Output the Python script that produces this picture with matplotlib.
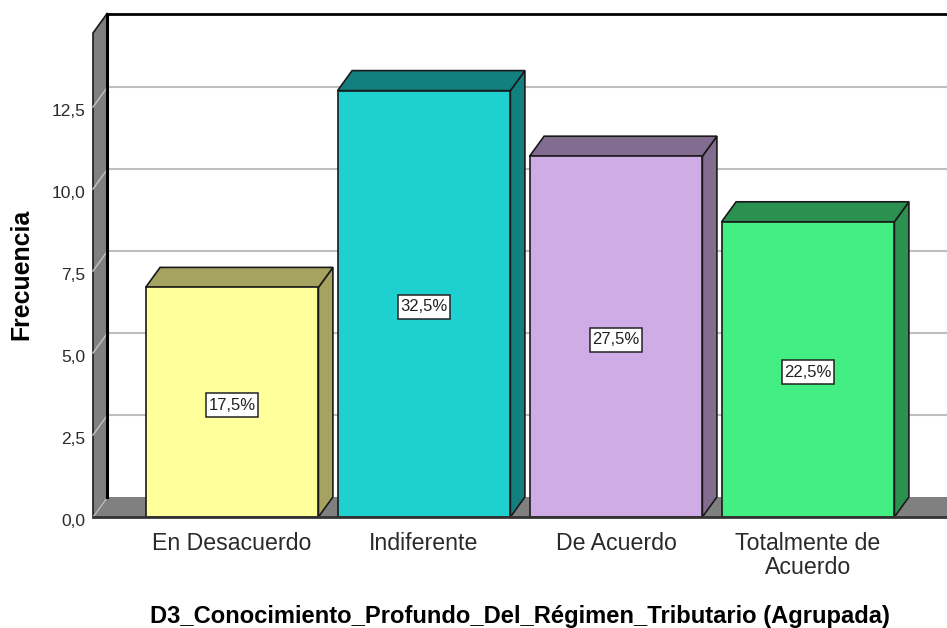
import matplotlib
matplotlib.use('Agg')
import matplotlib.pyplot as plt
from matplotlib.patches import Polygon, Rectangle
from matplotlib.transforms import ScaledTranslation

plt.rcParams['font.family'] = ['Liberation Sans', 'DejaVu Sans']

#datos
categorias = ['En Desacuerdo', 'Indiferente', 'De Acuerdo', 'Totalmente de\nAcuerdo']
frecuencia = [7, 13, 11, 9]
porcentaje = ['17,5%', '32,5%', '27,5%', '22,5%']
yticks = [0, 2.5, 5, 7.5, 10, 12.5]
ylabels = ['0,0', '2,5', '5,0', '7,5', '10,0', '12,5']

#colores
frente = ['#FFFF9B', '#1ED1D0', '#D0ACE6', '#43EE83']
lado = ['#A5A35F', '#138080', '#826C8F', '#2A9150']
gris = '#808080'
rejilla = '#BEBEBE'

W, H = 947, 628
fig = plt.figure(figsize=(W/100, H/100), dpi=100)
ax = fig.add_axes([93/W, (H-517)/H, (W-93)/W, (517-13)/H])

x0, x1 = -0.724, 3.724
ytop = 504/32.8
ax.set_xlim(x0, x1)
ax.set_ylim(0, ytop)
# profundidad 3D en unidades de datos
dx = 14.5/192
dy = 20/32.8
ancho = 0.9
# caja de las etiquetas
caja_w = 52/192
caja_h = 24/32.8


def poly(pts, color, ec='#1a1a1a', lw=1.2, z=2):
    ax.add_patch(Polygon(pts, closed=True, fc=color, ec=ec, lw=lw, zorder=z, clip_on=False))


# pared izquierda y suelo
poly([(x0, 0), (x0+dx, dy), (x0+dx, ytop), (x0, ytop-dy)], gris, lw=1.2, z=1)
poly([(x0, 0), (x0+dx, dy), (x1+1, dy), (x1+1, 0)], gris, ec='none', z=1)

# rejilla
for t in yticks:
    ax.plot([x0, x0+dx], [t, t+dy], color=rejilla, lw=1.1, zorder=1.5, clip_on=False)
    if t > 0:
        ax.plot([x0+dx, x1], [t+dy, t+dy], color=rejilla, lw=1.5, zorder=1.5)

# bordes de la pared del fondo
ax.plot([x0+dx, x0+dx], [dy, ytop], color='black', lw=2.2, zorder=1.8)
ax.plot([x0+dx, x1], [ytop-0.02, ytop-0.02], color='black', lw=2, zorder=1.8, clip_on=False)

# barras
for i, v in enumerate(frecuencia):
    a, b = i-ancho/2, i+ancho/2
    poly([(b, 0), (b+dx, dy), (b+dx, v+dy), (b, v)], lado[i], z=3)
    poly([(a, v), (a+dx, v+dy), (b+dx, v+dy), (b, v)], lado[i], z=3)
    poly([(a, 0), (a, v), (b, v), (b, 0)], frente[i], z=4)
    yc = v/2-0.09
    ax.add_patch(Rectangle((i-caja_w/2, yc-caja_h/2), caja_w, caja_h, fc='white', ec='#222222', lw=1.1, zorder=5))
    ax.text(i, yc, porcentaje[i], ha='center', va='center', fontsize=12, color='#222222', zorder=6)

ax.plot([x0, x1], [0, 0], color='#333333', lw=2, zorder=6, clip_on=False)

ax.set_xticks(range(4))
ax.set_xticklabels(categorias, fontsize=16.7, color='#2a2a2a', linespacing=1.05)
ax.set_yticks(yticks)
ax.set_yticklabels(ylabels, fontsize=12.5, color='#2a2a2a')
ax.tick_params(axis='x', length=0, pad=11)
ax.tick_params(axis='y', length=0, pad=5.5)
# etiquetas del eje y un poco mas abajo
baja = ScaledTranslation(0, -3/100, fig.dpi_scale_trans)
for lab in ax.get_yticklabels():
    lab.set_transform(lab.get_transform()+baja)
for s in ax.spines.values():
    s.set_visible(False)
ax.patch.set_visible(False)

fig.text(519.5/W, (H-616)/H, 'D3_Conocimiento_Profundo_Del_Régimen_Tributario (Agrupada)',
         ha='center', va='center', fontsize=17.1, fontweight='bold', color='black')
fig.text(21/W, (H-274.5)/H, 'Frecuencia', rotation=90, ha='center', va='center',
         fontsize=17.9, fontweight='bold', color='black')

fig.savefig('out.png', dpi=100)
